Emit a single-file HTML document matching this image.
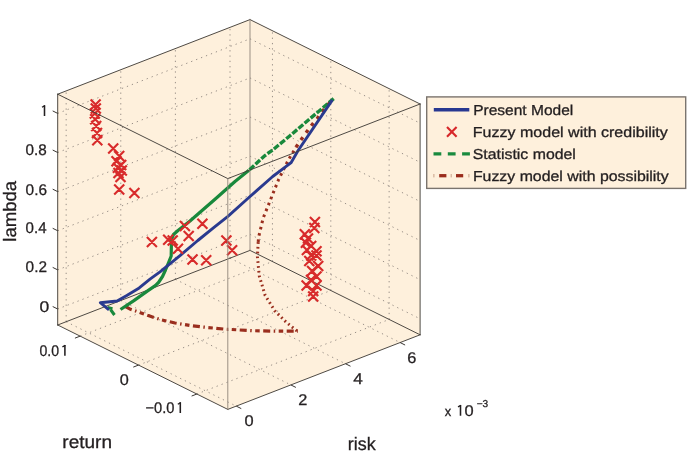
<!DOCTYPE html><html><head><meta charset="utf-8"><style>html,body{margin:0;padding:0;background:#fff;overflow:hidden}svg{display:block;will-change:transform}text{font-family:"Liberation Sans",sans-serif;fill:#231f20;stroke:#231f20;stroke-width:0.3px;text-rendering:geometricPrecision}.one{fill-opacity:0;stroke-opacity:0}</style></head><body>
<svg width="690" height="453" viewBox="0 0 690 453">
<polygon points="57.70,94.20 250.00,19.60 420.10,104.00 420.10,334.80 227.80,409.40 57.70,325.00" fill="#fef0dc"/>
<g stroke="#9a9088" stroke-width="1" stroke-dasharray="1.3 4" fill="none">
<line x1="66.16" y1="321.72" x2="236.26" y2="406.12"/>
<line x1="66.16" y1="321.72" x2="66.16" y2="90.92"/>
<line x1="120.77" y1="300.53" x2="290.87" y2="384.93"/>
<line x1="120.77" y1="300.53" x2="120.77" y2="69.73"/>
<line x1="175.39" y1="279.34" x2="345.49" y2="363.74"/>
<line x1="175.39" y1="279.34" x2="175.39" y2="48.54"/>
<line x1="230.00" y1="258.16" x2="400.10" y2="342.56"/>
<line x1="230.00" y1="258.16" x2="230.00" y2="27.36"/>
<line x1="80.15" y1="336.14" x2="272.45" y2="261.54"/>
<line x1="272.45" y1="261.54" x2="272.45" y2="30.74"/>
<line x1="138.50" y1="365.09" x2="330.80" y2="290.49"/>
<line x1="330.80" y1="290.49" x2="330.80" y2="59.69"/>
<line x1="196.84" y1="394.04" x2="389.14" y2="319.44"/>
<line x1="389.14" y1="319.44" x2="389.14" y2="88.64"/>
<line x1="57.70" y1="309.00" x2="250.00" y2="234.40"/>
<line x1="250.00" y1="234.40" x2="420.10" y2="318.80"/>
<line x1="57.70" y1="269.88" x2="250.00" y2="195.28"/>
<line x1="250.00" y1="195.28" x2="420.10" y2="279.68"/>
<line x1="57.70" y1="230.76" x2="250.00" y2="156.16"/>
<line x1="250.00" y1="156.16" x2="420.10" y2="240.56"/>
<line x1="57.70" y1="191.64" x2="250.00" y2="117.04"/>
<line x1="250.00" y1="117.04" x2="420.10" y2="201.44"/>
<line x1="57.70" y1="152.52" x2="250.00" y2="77.92"/>
<line x1="250.00" y1="77.92" x2="420.10" y2="162.32"/>
<line x1="57.70" y1="113.40" x2="250.00" y2="38.80"/>
<line x1="250.00" y1="38.80" x2="420.10" y2="123.20"/>
</g>
<g stroke="#45403b" stroke-width="0.95" fill="none" stroke-linecap="round">
<line x1="57.70" y1="94.20" x2="250.00" y2="19.60"/>
<line x1="250.00" y1="19.60" x2="420.10" y2="104.00"/>
<line x1="57.70" y1="325.00" x2="250.00" y2="250.40"/>
<line x1="250.00" y1="250.40" x2="420.10" y2="334.80"/>
<line x1="250.00" y1="19.60" x2="250.00" y2="250.40" stroke="#968a7e"/>
</g>
<path d="M125.5 306.5 L130.5 309.3 L139.0 312.2 L147.5 315.3 L160.0 319.5 L175.0 323.0 L190.0 325.5 L202.6 327.0 L224.6 329.1 L252.2 330.7 L275.0 331.2 L298.0 331.2" fill="none" stroke="#9a2e1e" stroke-width="3.2" stroke-dasharray="7 3.5 1.5 3.5 4.5 3.5"/>
<path d="M297.0 331.0 L286.4 322.4 L274.8 310.8 L265.1 295.3 L259.3 276.0 L257.4 256.7 L258.2 242.0" fill="none" stroke="#9a2e1e" stroke-width="3" stroke-dasharray="1.7 3.1"/>
<path d="M258.2 242.0 L258.6 237.3 L263.2 218.0 L270.9 198.7 L278.7 179.3 L288.3 160.0 L296.0 147.3" fill="none" stroke="#9a2e1e" stroke-width="3" stroke-dasharray="2.6 3.8"/>
<path d="M296.0 147.3 L300.6 140.4 L305.9 133.1 L311.2 125.8 L317.2 118.5 L323.1 110.5 L329.1 103.3 L333.0 99.0" fill="none" stroke="#9a2e1e" stroke-width="3.4" stroke-dasharray="3.4 5.4"/>
<path d="M333.7 98.6 L290.0 135.7 L272.7 150.0 L265.0 155.5 L248.9 170.3" fill="none" stroke="#19893c" stroke-width="3.4" stroke-dasharray="6.2 1.8"/>
<path d="M248.9 170.3 L235.0 181.5 L215.0 199.2 L190.0 221.0 L178.0 230.5 L173.5 234.5 L171.5 239.0 L171.2 256.0 L168.8 262.0 L165.5 270.0 L162.5 276.5 L158.5 282.5 L155.3 285.6 L148.0 290.6 L133.9 300.6 L120.5 309.5" fill="none" stroke="#19893c" stroke-width="3.2" stroke-linejoin="round"/>
<path d="M107.5 307.5 L112.5 308.7 M110.5 309.5 L114.5 315" fill="none" stroke="#19893c" stroke-width="3"/>
<path d="M332.4 99.9 L297.8 151.0 L291.2 162.5 L285.5 166.8 L272.7 176.5 L248.9 197.5 L227.9 216.3 L213.7 227.7 L197.8 240.5 L180.0 255.6 L160.0 271.8 L150.0 279.2 L139.2 287.9 L126.8 295.5 L117.1 301.0 L100.3 302.7 L109.0 309.8" fill="none" stroke="#2a3a8f" stroke-width="2.9" stroke-linejoin="round"/>
<path d="M90.6 99.5l10.0 10.0M100.6 99.5l-10.0 10.0M90.8 103.6l10.0 10.0M100.8 103.6l-10.0 10.0M89.8 108.5l10.0 10.0M99.8 108.5l-10.0 10.0M90.2 114.3l10.0 10.0M100.2 114.3l-10.0 10.0M91.2 121.0l10.0 10.0M101.2 121.0l-10.0 10.0M92.0 128.0l10.0 10.0M102.0 128.0l-10.0 10.0M92.3 135.2l10.0 10.0M102.3 135.2l-10.0 10.0M108.2 143.6l10.0 10.0M118.2 143.6l-10.0 10.0M114.2 150.9l10.0 10.0M124.2 150.9l-10.0 10.0M111.5 156.2l10.0 10.0M121.5 156.2l-10.0 10.0M116.2 160.1l10.0 10.0M126.2 160.1l-10.0 10.0M112.9 162.8l10.0 10.0M122.9 162.8l-10.0 10.0M116.8 165.4l10.0 10.0M126.8 165.4l-10.0 10.0M113.5 168.1l10.0 10.0M123.5 168.1l-10.0 10.0M115.5 172.1l10.0 10.0M125.5 172.1l-10.0 10.0M114.2 184.6l10.0 10.0M124.2 184.6l-10.0 10.0M129.4 187.9l10.0 10.0M139.4 187.9l-10.0 10.0M146.9 237.0l10.0 10.0M156.9 237.0l-10.0 10.0M163.2 234.7l10.0 10.0M173.2 234.7l-10.0 10.0M167.7 235.4l10.0 10.0M177.7 235.4l-10.0 10.0M173.0 243.8l10.0 10.0M183.0 243.8l-10.0 10.0M179.9 221.0l10.0 10.0M189.9 221.0l-10.0 10.0M183.7 230.9l10.0 10.0M193.7 230.9l-10.0 10.0M197.4 218.7l10.0 10.0M207.4 218.7l-10.0 10.0M187.5 254.5l10.0 10.0M197.5 254.5l-10.0 10.0M201.2 255.2l10.0 10.0M211.2 255.2l-10.0 10.0M221.4 235.4l10.0 10.0M231.4 235.4l-10.0 10.0M227.1 245.3l10.0 10.0M237.1 245.3l-10.0 10.0M309.9 217.1l10.0 10.0M319.9 217.1l-10.0 10.0M309.3 222.9l10.0 10.0M319.3 222.9l-10.0 10.0M299.8 229.2l10.0 10.0M309.8 229.2l-10.0 10.0M303.0 233.5l10.0 10.0M313.0 233.5l-10.0 10.0M300.9 237.7l10.0 10.0M310.9 237.7l-10.0 10.0M306.2 240.9l10.0 10.0M316.2 240.9l-10.0 10.0M301.9 245.1l10.0 10.0M311.9 245.1l-10.0 10.0M311.5 246.2l10.0 10.0M321.5 246.2l-10.0 10.0M306.2 250.4l10.0 10.0M316.2 250.4l-10.0 10.0M311.5 250.5l10.0 10.0M321.5 250.5l-10.0 10.0M304.3 256.0l10.0 10.0M314.3 256.0l-10.0 10.0M313.2 261.0l10.0 10.0M323.2 261.0l-10.0 10.0M307.1 266.0l10.0 10.0M317.1 266.0l-10.0 10.0M311.5 271.5l10.0 10.0M321.5 271.5l-10.0 10.0M306.0 275.0l10.0 10.0M316.0 275.0l-10.0 10.0M301.6 280.4l10.0 10.0M311.6 280.4l-10.0 10.0M311.5 280.4l10.0 10.0M321.5 280.4l-10.0 10.0M308.2 285.9l10.0 10.0M318.2 285.9l-10.0 10.0M308.2 291.4l10.0 10.0M318.2 291.4l-10.0 10.0" fill="none" stroke="#d82b2b" stroke-width="2.15"/>
<g stroke="#45403b" stroke-width="0.95" fill="none" stroke-linecap="round">
<line x1="57.70" y1="94.20" x2="227.80" y2="178.60"/>
<line x1="227.80" y1="178.60" x2="420.10" y2="104.00"/>
<line x1="57.70" y1="94.20" x2="57.70" y2="325.00"/>
<line x1="420.10" y1="104.00" x2="420.10" y2="334.80"/>
<line x1="57.70" y1="325.00" x2="227.80" y2="409.40"/>
<line x1="227.80" y1="409.40" x2="420.10" y2="334.80"/>
<line x1="227.80" y1="178.60" x2="227.80" y2="409.40" stroke="#968a7e"/>
</g>
<g stroke="#3a3530" stroke-width="1">
<line x1="57.70" y1="309.00" x2="52.68" y2="306.51"/>
<line x1="57.70" y1="269.88" x2="52.68" y2="267.39"/>
<line x1="57.70" y1="230.76" x2="52.68" y2="228.27"/>
<line x1="57.70" y1="191.64" x2="52.68" y2="189.15"/>
<line x1="57.70" y1="152.52" x2="52.68" y2="150.03"/>
<line x1="57.70" y1="113.40" x2="52.68" y2="110.91"/>
<line x1="80.15" y1="336.14" x2="74.93" y2="338.17"/>
<line x1="138.50" y1="365.09" x2="133.28" y2="367.12"/>
<line x1="196.84" y1="394.04" x2="191.62" y2="396.06"/>
<line x1="236.26" y1="406.12" x2="241.28" y2="408.61"/>
<line x1="290.87" y1="384.93" x2="295.89" y2="387.42"/>
<line x1="345.49" y1="363.74" x2="350.50" y2="366.23"/>
<line x1="400.10" y1="342.56" x2="405.12" y2="345.05"/>
</g>
<rect x="426.7" y="96.9" width="259" height="91.5" fill="#fef0dc" stroke="#7a746e" stroke-width="1.4"/>
<line x1="433.8" y1="109.7" x2="469.3" y2="109.7" stroke="#283891" stroke-width="3.6"/>
<path d="M447 127.1 L456.6 136.7 M456.6 127.1 L447 136.7" stroke="#d7282a" stroke-width="2.15"/>
<line x1="433.5" y1="153.8" x2="470" y2="153.8" stroke="#1a8a3e" stroke-width="3.3" stroke-dasharray="7.8 6.5"/>
<g stroke="#9a2c1c" stroke-width="3.3"><line x1="439.2" y1="175.7" x2="446.4" y2="175.7"/><line x1="456" y1="175.7" x2="463.2" y2="175.7"/></g>
<g stroke="#c8a088" stroke-width="1"><line x1="433.9" y1="174" x2="433.9" y2="177.4"/><line x1="451.2" y1="174" x2="451.2" y2="177.4"/><line x1="468.9" y1="174" x2="468.9" y2="177.4"/></g>
<text id="t_z1" x="41.38" y="115.99" font-size="15.50" textLength="4.52" lengthAdjust="spacingAndGlyphs"><tspan class="one">1</tspan></text>
<text id="t_z08" x="25.62" y="155.01" font-size="15.50" textLength="21.21" lengthAdjust="spacingAndGlyphs">0.8</text>
<text id="t_z06" x="25.61" y="194.55" font-size="15.50" textLength="21.42" lengthAdjust="spacingAndGlyphs">0.6</text>
<text id="t_z04" x="25.61" y="233.21" font-size="15.50" textLength="20.94" lengthAdjust="spacingAndGlyphs">0.4</text>
<text id="t_z02" x="25.60" y="271.82" font-size="15.50" textLength="21.38" lengthAdjust="spacingAndGlyphs">0.2</text>
<text id="t_z0" x="39.55" y="312.00" font-size="15.50" textLength="9.74" lengthAdjust="spacingAndGlyphs">0</text>
<text id="t_r001" x="39.42" y="355.67" font-size="15.50" textLength="27.45" lengthAdjust="spacingAndGlyphs">0.0<tspan class="one">1</tspan></text>
<text id="t_r0" x="119.89" y="384.94" font-size="15.50" textLength="9.03" lengthAdjust="spacingAndGlyphs">0</text>
<text id="t_rm001" x="145.47" y="412.97" font-size="15.50" textLength="37.06" lengthAdjust="spacingAndGlyphs">−0.0<tspan class="one">1</tspan></text>
<text id="t_k0" x="244.44" y="425.92" font-size="15.50" textLength="9.11" lengthAdjust="spacingAndGlyphs">0</text>
<text id="t_k2" x="298.30" y="404.70" font-size="15.50" textLength="9.08" lengthAdjust="spacingAndGlyphs">2</text>
<text id="t_k4" x="353.24" y="383.60" font-size="15.50" textLength="9.53" lengthAdjust="spacingAndGlyphs">4</text>
<text id="t_k6" x="407.23" y="362.92" font-size="15.50" textLength="9.11" lengthAdjust="spacingAndGlyphs">6</text>
<text id="t_x" x="444.83" y="415.78" font-size="13.60" textLength="6.42" lengthAdjust="spacingAndGlyphs">x</text>
<text id="t_ten" x="455.43" y="415.67" font-size="15.50" textLength="18.26" lengthAdjust="spacingAndGlyphs"><tspan class="one">1</tspan>0</text>
<text id="t_exp" x="476.65" y="406.81" font-size="10.00" textLength="11.56" lengthAdjust="spacingAndGlyphs">−3</text>
<text id="t_ret" x="62.36" y="448.43" font-size="18.00" textLength="49.67" lengthAdjust="spacingAndGlyphs">return</text>
<text id="t_risk" x="347.85" y="450.17" font-size="18.00" textLength="27.85" lengthAdjust="spacingAndGlyphs">risk</text>
<text id="t_L1" x="473.16" y="115.40" font-size="14.40" textLength="100.07" lengthAdjust="spacingAndGlyphs">Present Model</text>
<text id="t_L2" x="472.75" y="136.80" font-size="14.40" textLength="195.06" lengthAdjust="spacingAndGlyphs">Fuzzy model with credibility</text>
<text id="t_L3" x="472.78" y="159.30" font-size="14.40" textLength="103.11" lengthAdjust="spacingAndGlyphs">Statistic model</text>
<text id="t_L4" x="472.93" y="181.20" font-size="14.40" textLength="195.76" lengthAdjust="spacingAndGlyphs">Fuzzy model with possibility</text>
<text transform="translate(15.68,241.71) rotate(-90)" font-size="18.00" textLength="60.90" lengthAdjust="spacingAndGlyphs">lambda</text>
<path d="M44.50 105.33V115.99M64.90 345.00V355.67M180.30 402.30V412.97M460.50 405.01V415.67" stroke="#231f20" stroke-width="1.55" fill="none"/>
<path d="M44.90 105.68L42.00 107.23M65.30 345.35L62.40 346.90M180.70 402.65L177.80 404.20M460.90 405.36L458.00 406.91" stroke="#231f20" stroke-width="1.3" fill="none"/>
</svg></body></html>
